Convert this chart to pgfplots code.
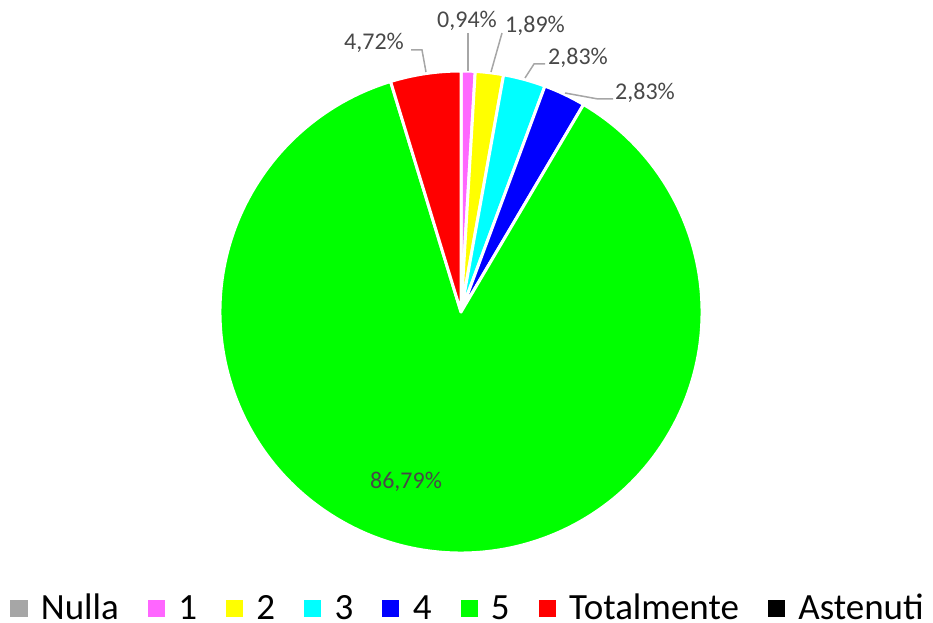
\documentclass[border=0pt]{standalone}
\usepackage{fontspec}
\setmainfont{Carlito}
\usepackage{pgfplots}
\pgfplotsset{compat=1.18}
\definecolor{cNulla}{HTML}{A6A6A6}
\definecolor{cOne}{HTML}{FF66FF}
\definecolor{cTwo}{HTML}{FFFF00}
\definecolor{cThree}{HTML}{00FFFF}
\definecolor{cFour}{HTML}{0000FF}
\definecolor{cFive}{HTML}{00FF00}
\definecolor{cTot}{HTML}{FF0000}
\definecolor{cAst}{HTML}{000000}
\definecolor{lbl}{HTML}{484848}
\definecolor{lead}{HTML}{A6A6A6}
% data (percent)
\def\vNulla{0}
\def\vOne{0.94}
\def\vTwo{1.89}
\def\vThree{2.83}
\def\vFour{2.83}
\def\vFive{86.79}
\def\vTot{4.72}
\def\vAst{0}
\newcommand\pieslice[3]{%
  \pgfmathsetmacro\sa{90-3.6*(#1)}%
  \pgfmathsetmacro\ea{90-3.6*(#1+#2)}%
  \edef\tmp{\noexpand\filldraw[fill=#3, draw=white, line width=3bp, line join=round] (axis cs:461,311) -- ++(\sa:241bp) arc[start angle=\sa, end angle=\ea, radius=241bp] -- cycle;}%
  \tmp}
\newcommand\lblfont{\fontsize{24bp}{24bp}\selectfont}
\begin{document}
\begin{tikzpicture}
\begin{axis}[
  x=1bp, y=1bp, xmin=0, xmax=933, ymin=0, ymax=623,
  hide axis, clip=false, scale only axis,
  legend image code/.code={\fill[#1] (0bp,3bp) rectangle (16bp,19bp);},
  legend columns=8,
  legend style={draw=none, fill=none, inner sep=0pt, outer sep=0pt,
    at={(axis cs:10.5,2)}, anchor=south west,
    column sep=14bp,
    /tikz/every even column/.append style={column sep=29bp},
    font=\fontsize{37bp}{37bp}\selectfont,
    nodes={inner sep=0pt, outer sep=0pt},
    cells={anchor=base west}},
]
\coordinate (BL) at (axis cs:0,0);
\coordinate (TR) at (axis cs:933,623);
\pieslice{0}{\vOne}{cOne}
\pieslice{\vOne}{\vTwo}{cTwo}
\pieslice{\vOne+\vTwo}{\vThree}{cThree}
\pieslice{\vOne+\vTwo+\vThree}{\vFour}{cFour}
\pieslice{\vOne+\vTwo+\vThree+\vFour}{\vFive}{cFive}
\pieslice{\vOne+\vTwo+\vThree+\vFour+\vFive}{\vTot}{cTot}
% leader lines
\draw[lead, line width=1.5bp] (axis cs:411,573) -- (axis cs:422,573) -- (axis cs:426,551);
\draw[lead, line width=1.5bp] (axis cs:468,590) -- (axis cs:468,552);
\draw[lead, line width=1.5bp] (axis cs:502,590) -- (axis cs:491,551);
\draw[lead, line width=1.5bp] (axis cs:545,559) -- (axis cs:534,559) -- (axis cs:525,545);
\draw[lead, line width=1.5bp] (axis cs:613,524) -- (axis cs:598,524) -- (axis cs:565,530);
% data labels
\node[anchor=base, text=lbl, inner sep=0pt, font=\lblfont] at (axis cs:374,573) {4,72\%};
\node[anchor=base, text=lbl, inner sep=0pt, font=\lblfont] at (axis cs:467,595) {0,94\%};
\node[anchor=base, text=lbl, inner sep=0pt, font=\lblfont] at (axis cs:535,590) {1,89\%};
\node[anchor=base, text=lbl, inner sep=0pt, font=\lblfont] at (axis cs:578,558) {2,83\%};
\node[anchor=base, text=lbl, inner sep=0pt, font=\lblfont] at (axis cs:645,523) {2,83\%};
\node[anchor=base, text=lbl, inner sep=0pt, font=\lblfont] at (axis cs:406,134) {86,79\%};
% legend
\addlegendimage{cNulla}\addlegendentry{Nulla}
\addlegendimage{cOne}\addlegendentry{1}
\addlegendimage{cTwo}\addlegendentry{2}
\addlegendimage{cThree}\addlegendentry{3}
\addlegendimage{cFour}\addlegendentry{4}
\addlegendimage{cFive}\addlegendentry{5}
\addlegendimage{cTot}\addlegendentry{Totalmente}
\addlegendimage{cAst}\addlegendentry{Astenuti}
\end{axis}
\pgfresetboundingbox
\path (BL) rectangle (TR);
\end{tikzpicture}
\end{document}
